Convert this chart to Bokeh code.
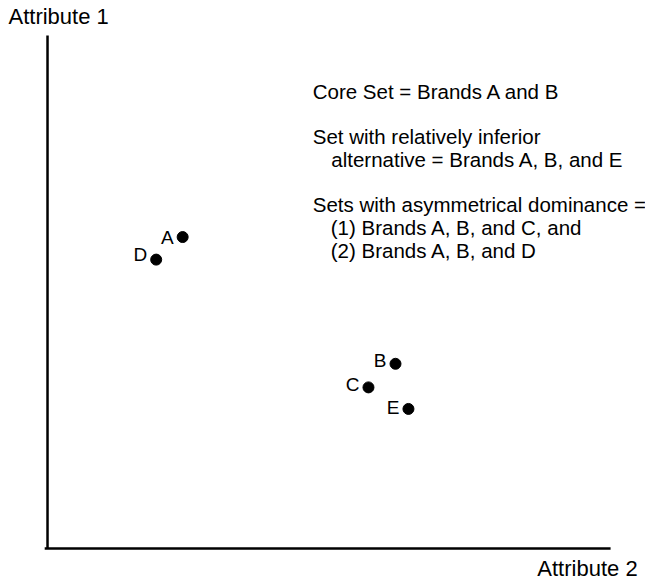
from bokeh.plotting import figure
from bokeh.models import Range1d, ColumnDataSource
from bokeh.embed import file_html
from bokeh.resources import INLINE
from bokeh.core.properties import value

# Brand positions (x = Attribute 2, y = Attribute 1)
brands = ["A", "D", "B", "C", "E"]
attr2 = [24.0, 19.3, 61.8, 57.0, 64.1]
attr1 = [60.7, 56.3, 36.0, 31.4, 27.2]
label_dy = [0, -5, -3, -3, -1]

notes = [
    "Core Set = Brands A and B",
    "Set with relatively inferior",
    "alternative = Brands A, B, and E",
    "Sets with asymmetrical dominance =",
    "(1) Brands A, B, and C, and",
    "(2) Brands A, B, and D",
]
note_x = [47.1, 47.1, 50.4, 47.1, 50.3, 50.3]
note_y = [89.1, 80.3, 75.8, 67.1, 62.6, 58.1]

axis_titles = ["Attribute 1", "Attribute 2"]

FONT = "Liberation Sans"

p = figure(width=645, height=581, output_backend="svg", toolbar_location=None,
           x_range=Range1d(-8.35, 106.2), y_range=Range1d(-6.43, 106.8),
           x_axis_type=None, y_axis_type=None, min_border=0)
p.outline_line_color = None
p.grid.visible = False
p.background_fill_color = "white"
p.border_fill_color = "white"

# axis lines
p.segment(x0=[0, -0.5], y0=[0, 0], x1=[0, 100], y1=[100, 0],
          line_color="black", line_width=2.5)

src = ColumnDataSource(dict(x=attr2, y=attr1, name=brands, dy=label_dy))
p.scatter("x", "y", source=src, size=11, color="black")
p.text("x", "y", text="name", source=src, x_offset=-9, y_offset="dy",
       text_align="right", text_baseline="middle", text_font=value(FONT),
       text_font_size="19px", text_color="black")

nsrc = ColumnDataSource(dict(x=note_x, y=note_y, t=notes))
p.text("x", "y", text="t", source=nsrc, text_align="left", text_baseline="middle",
       text_font=value(FONT), text_font_size="20.5px", text_color="black")

p.text(x=[-6.93], y=[103.7], text=[axis_titles[0]], text_align="left",
       text_baseline="middle", text_font=value(FONT), text_font_size="22px",
       text_color="black")
p.text(x=[104.8], y=[-3.9], text=[axis_titles[1]], text_align="right",
       text_baseline="middle", text_font=value(FONT), text_font_size="22px",
       text_color="black")

open("out.html", "w").write(file_html(p, INLINE))
